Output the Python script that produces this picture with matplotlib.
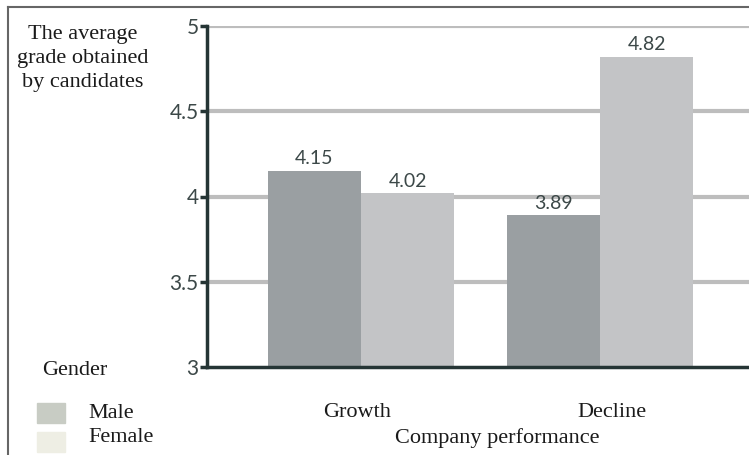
import matplotlib.pyplot as plt
from matplotlib.patches import Rectangle
from matplotlib.lines import Line2D
import numpy as np

# Daten
categories = ['Growth', 'Decline']
genders = ['Male', 'Female']
male = [4.15, 3.89]
female = [4.02, 4.82]
yticks = [3, 3.5, 4, 4.5, 5]
ylabel_lines = ['The average', 'grade obtained', 'by candidates']

bar_colors = ['#9a9fa2', '#c3c4c6']
legend_colors = ['#c8ccc4', '#eeeee4']
serif = 'Liberation Serif'
sans = ['Lato', 'DejaVu Sans']

W, H = 749, 455
fig = plt.figure(figsize=(W / 100, H / 100), dpi=100)
ax = fig.add_axes([207 / W, 1 - 367 / H, 542 / W, 341 / H])


def ftext(px, py, s, **kw):
    # Text in Pixelkoordinaten (von oben gemessen)
    fig.text(px / W, 1 - py / H, s, family=serif, fontsize=16, color='#1a1a1a', **kw)


x = np.arange(len(categories))
w = 0.39
b1 = ax.bar(x - w / 2, np.array(male) - 3, w, bottom=3, color=bar_colors[0], zorder=3)
b2 = ax.bar(x + w / 2, np.array(female) - 3, w, bottom=3, color=bar_colors[1], zorder=3)

for bars, vals in [(b1, male), (b2, female)]:
    for r, v in zip(bars, vals):
        ax.annotate(f'{v:.2f}', (r.get_x() + r.get_width() / 2, v), xytext=(0, 2.5),
                    textcoords='offset points', ha='center', va='bottom',
                    fontsize=14, color='#3c4848', family=sans, zorder=4)

ax.set_ylim(3, 5)
ax.set_xlim(-0.644, 1.623)
ax.set_yticks(yticks)
ax.set_yticklabels(['3', '3.5', '4', '4.5', '5'], family=sans, fontsize=15, color='#3c4848')
ax.set_xticks([])
for y in yticks[1:]:
    ax.axhline(y, color='#bdbdbd', lw=3, zorder=1)

for s in ['top', 'right']:
    ax.spines[s].set_visible(False)
for s in ['left', 'bottom']:
    ax.spines[s].set_color('#253535')
    ax.spines[s].set_linewidth(2.5)
ax.spines['bottom'].set_zorder(5)
ax.tick_params(axis='y', length=5, width=2.5, color='#253535', pad=1)

# Kategorien und Achsentitel
ftext(357, 417, categories[0], ha='center', va='baseline')
ftext(612, 417, categories[1], ha='center', va='baseline')
ftext(497, 443, 'Company performance', ha='center', va='baseline')
for i, line in enumerate(ylabel_lines):
    ftext(83, 39 + i * 24, line, ha='center', va='baseline')

# Legende
ftext(42, 375, 'Gender', ha='left', va='baseline')
for i, c in enumerate(legend_colors):
    top = 403 + i * 29
    fig.patches.append(Rectangle((37 / W, 1 - (top + 20) / H), 28 / W, 20 / H,
                                 transform=fig.transFigure, color=c))
for i, g in enumerate(genders):
    ftext(88, 418 + i * 24, g, ha='left', va='baseline')

# Rahmen
fig.lines.append(Line2D([8 / W, 1], [1 - 7 / H, 1 - 7 / H], transform=fig.transFigure,
                        color='#666666', lw=1.5))
fig.lines.append(Line2D([8 / W, 8 / W], [0, 1 - 7 / H], transform=fig.transFigure,
                        color='#666666', lw=1.5))

fig.savefig('out.png', dpi=100)
